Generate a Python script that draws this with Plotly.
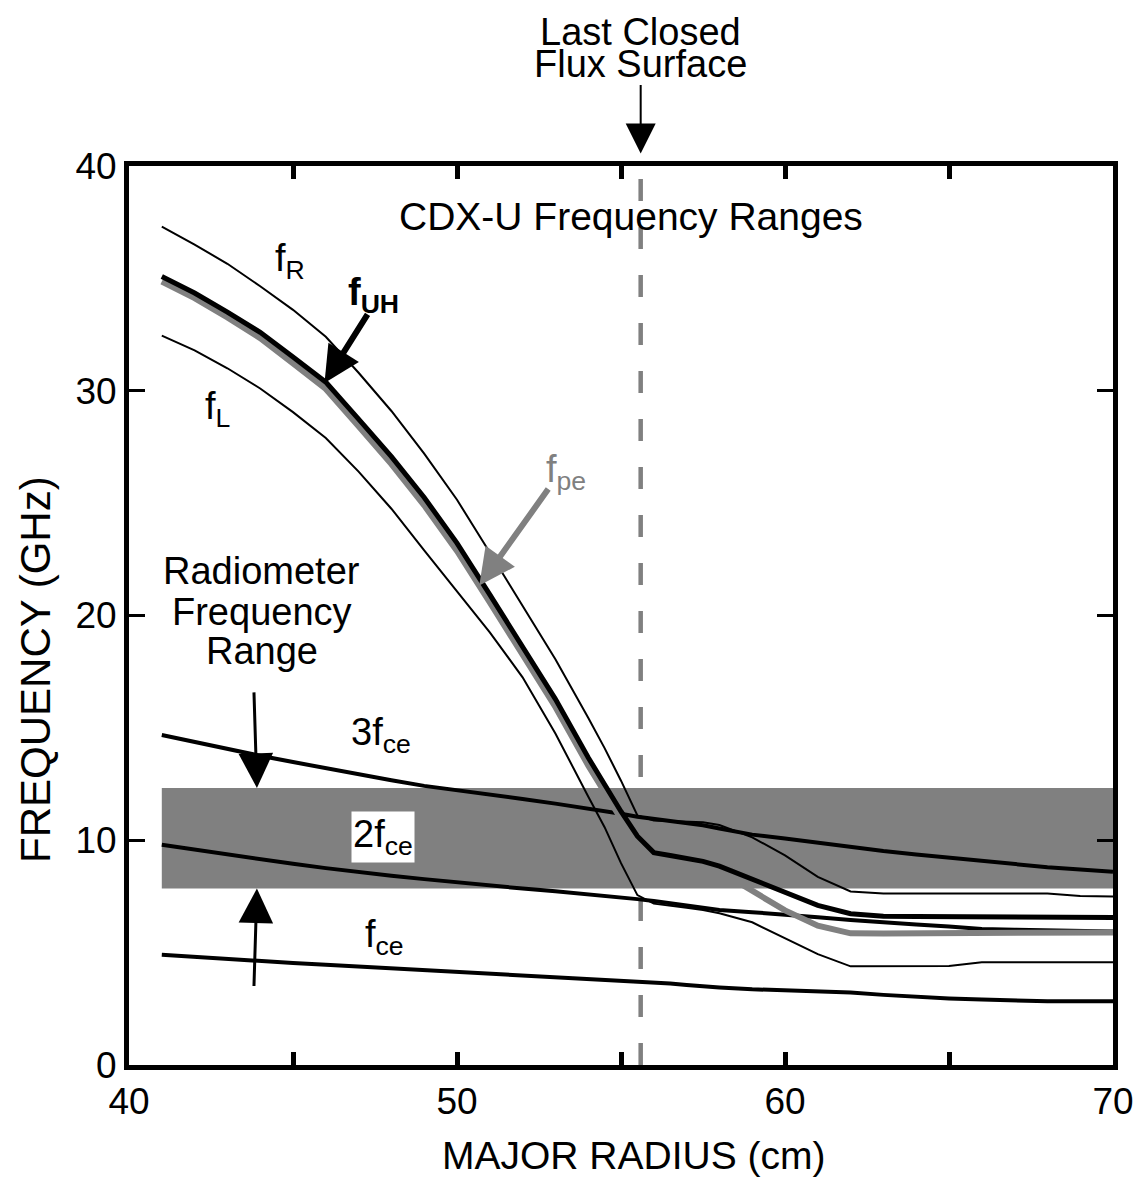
import plotly.graph_objects as go

# ---------------- data ----------------
R = [41, 42, 43, 44, 45, 46, 47, 48, 49, 50, 51, 52, 53, 54, 54.5, 55, 55.5,
     56, 56.5, 57, 57.5, 58, 59, 60, 61, 62, 63, 64, 65, 66, 67, 68, 69, 70]

f_R = [37.3, 36.5, 35.65, 34.65, 33.6, 32.4, 30.8, 29.1, 27.2, 25.15, 22.8, 20.4,
       18.05, 15.45, 14.1, 12.65, 11.1, 10.88, 10.85, 10.82, 10.8, 10.68, 10.13,
       9.33, 8.37, 7.72, 7.63, 7.63, 7.63, 7.63, 7.63, 7.63, 7.52, 7.5]

f_UH = [35.08, 34.35, 33.5, 32.6, 31.5, 30.38, 28.74, 27.07, 25.25, 23.22, 20.93,
        18.57, 16.28, 13.68, 12.46, 11.28, 10.18, 9.45, 9.32, 9.19, 9.06, 8.85,
        8.28, 7.72, 7.10, 6.73, 6.62, 6.61, 6.61, 6.6, 6.6, 6.6, 6.58, 6.56]

f_pe = [34.86, 34.12, 33.26, 32.34, 31.22, 30.08, 28.42, 26.74, 24.9, 22.87, 20.58,
        18.22, 15.93, 13.33, 12.11, 10.95, 9.9, 9.3, 9.22, 9.1, 8.96, 8.62,
        7.72, 6.88, 6.2, 5.86, 5.85, 5.85, 5.85, 5.85, 5.85, 5.85, 5.86, 5.9]

f_L = [32.45, 31.8, 31.0, 30.1, 29.05, 27.9, 26.4, 24.75, 22.9, 21.1, 19.25, 17.25,
       14.75, 11.95, 10.58, 8.98, 7.56, 7.18, 7.1, 7.0, 6.9, 6.75, 6.35, 5.63,
       4.93, 4.39, 4.39, 4.39, 4.4, 4.57, 4.57, 4.57, 4.57, 4.57]

f_3ce = [14.68, 14.36, 14.05, 13.76, 13.48, 13.2, 12.93, 12.67, 12.42, 12.24, 12.04,
         11.84, 11.63, 11.42, 11.28, 11.18, 11.05, 10.95, 10.85, 10.76, 10.67, 10.52,
         10.25, 10.08, 9.9, 9.68, 9.52, 9.37, 9.22, 9.08, 8.92, 8.8, 8.7, 8.6]

f_2ce = [9.8, 9.58, 9.36, 9.15, 8.95, 8.76, 8.58, 8.42, 8.27, 8.12, 7.98, 7.85,
         7.73, 7.6, 7.55, 7.47, 7.38, 7.3, 7.2, 7.08, 6.98, 6.9, 6.8, 6.7, 6.57,
         6.45, 6.33, 6.25, 6.16, 6.05, 6.02, 5.99, 5.96, 5.94]

f_ce = [4.9, 4.8, 4.71, 4.62, 4.54, 4.46, 4.38, 4.3, 4.22, 4.14, 4.05, 3.98, 3.91,
        3.84, 3.8, 3.77, 3.73, 3.69, 3.63, 3.56, 3.5, 3.45, 3.37, 3.32, 3.28, 3.23,
        3.12, 3.03, 2.96, 2.91, 2.87, 2.84, 2.84, 2.84]

RADIOMETER_BAND = [7.85, 12.33]   # GHz
LCFS_R = 55.6                      # cm
X_RANGE = [40, 70]
Y_RANGE = [0, 40]

FONT = "Liberation Sans, Arial, sans-serif"
GRAY = "#808080"

fig = go.Figure()

# radiometer frequency band
lo, hi = RADIOMETER_BAND
fig.add_trace(go.Scatter(x=[R[0], R[-1], R[-1], R[0], R[0]], y=[lo, lo, hi, hi, lo],
                         fill="toself", fillcolor=GRAY, mode="lines",
                         line=dict(width=0), hoverinfo="skip", showlegend=False))

# last closed flux surface
fig.add_trace(go.Scatter(x=[LCFS_R, LCFS_R], y=Y_RANGE, mode="lines",
                         line=dict(color=GRAY, width=4.5, dash="22px,26px"),
                         showlegend=False, hoverinfo="skip"))

def line(y, color, width, name):
    fig.add_trace(go.Scatter(x=R, y=y, mode="lines", name=name,
                             line=dict(color=color, width=width),
                             showlegend=False))

line(f_ce, "black", 4, "fce")
line(f_2ce, "black", 4, "2fce")
line(f_3ce, "black", 4, "3fce")
line(f_L, "black", 2, "fL")
line(f_R, "black", 2, "fR")
line(f_pe, GRAY, 6, "fpe")
line(f_UH, "black", 5, "fUH")

ann = []
def text(x, y, t, size=38, color="black", bg=None, xref="x", yref="y", angle=0):
    d = dict(x=x, y=y, xref=xref, yref=yref, text=t, showarrow=False,
             font=dict(family=FONT, size=size, color=color),
             xanchor="center", yanchor="middle", textangle=angle)
    if bg:
        d["bgcolor"] = bg
    ann.append(d)

def arrow(x, y, ax, ay, color, width, size, yref="y"):
    ann.append(dict(x=x, y=y, xref="x", yref=yref, ax=ax, ay=ay, text="",
                    showarrow=True, arrowhead=2, arrowwidth=width,
                    arrowsize=size, arrowcolor=color))

text(55.3, 37.74, "CDX-U Frequency Ranges", size=39)
text(LCFS_R, 1.149, "Last Closed", yref="paper")
text(LCFS_R, 1.114, "Flux Surface", yref="paper")
arrow(LCFS_R, 1.014, 0, -70, "black", 2, 3, yref="paper")

text(44.9, 35.79, "f<sub>R</sub>")
text(47.45, 34.28, "<b>f<sub>UH</sub></b>")
text(42.71, 29.18, "f<sub>L</sub>")
text(53.33, 26.39, "f<sub>pe</sub>", color=GRAY)
arrow(45.96, 30.35, 44, -70, "black", 6, 1.2)
arrow(50.68, 21.33, 70, -98, GRAY, 6, 1.2)

text(44.05, 22.0, "Radiometer")
text(44.05, 20.15, "Frequency")
text(44.05, 18.4, "Range")
arrow(43.9, hi, -3, -97, "black", 3, 2.3)
arrow(43.9, lo, -3, 99, "black", 3, 2.3)

text(47.67, 14.68, "3f<sub>ce</sub>")
text(47.73, 10.16, "2f<sub>ce</sub>", bg="white")
text(47.79, 5.68, "f<sub>ce</sub>")

# axis titles
text(0.513, -0.101, "MAJOR RADIUS (cm)", size=39, xref="paper", yref="paper")
text(-0.095, 0.44, "FREQUENCY (GHz)", size=42, xref="paper", yref="paper", angle=-90)

axis_common = dict(showline=True, linewidth=5, linecolor="black", mirror="ticks",
                   showgrid=False, zeroline=False, ticks="inside", automargin=False,
                   tickcolor="black", tickfont=dict(family=FONT, size=37, color="black"))

fig.update_layout(
    width=1137, height=1182,
    margin=dict(l=129, r=24, t=166, b=117),
    paper_bgcolor="white", plot_bgcolor="white",
    font=dict(family=FONT, color="black"),
    annotations=ann,
    xaxis=dict(range=X_RANGE, tick0=40, dtick=10, ticklen=13, tickwidth=5,
               minor=dict(dtick=5, ticks="inside", ticklen=13, tickwidth=5, tickcolor="black"),
               **axis_common),
    yaxis=dict(range=Y_RANGE, tick0=0, dtick=10, ticklen=16, tickwidth=3,
               **axis_common),
)

fig.write_html("out.html")
